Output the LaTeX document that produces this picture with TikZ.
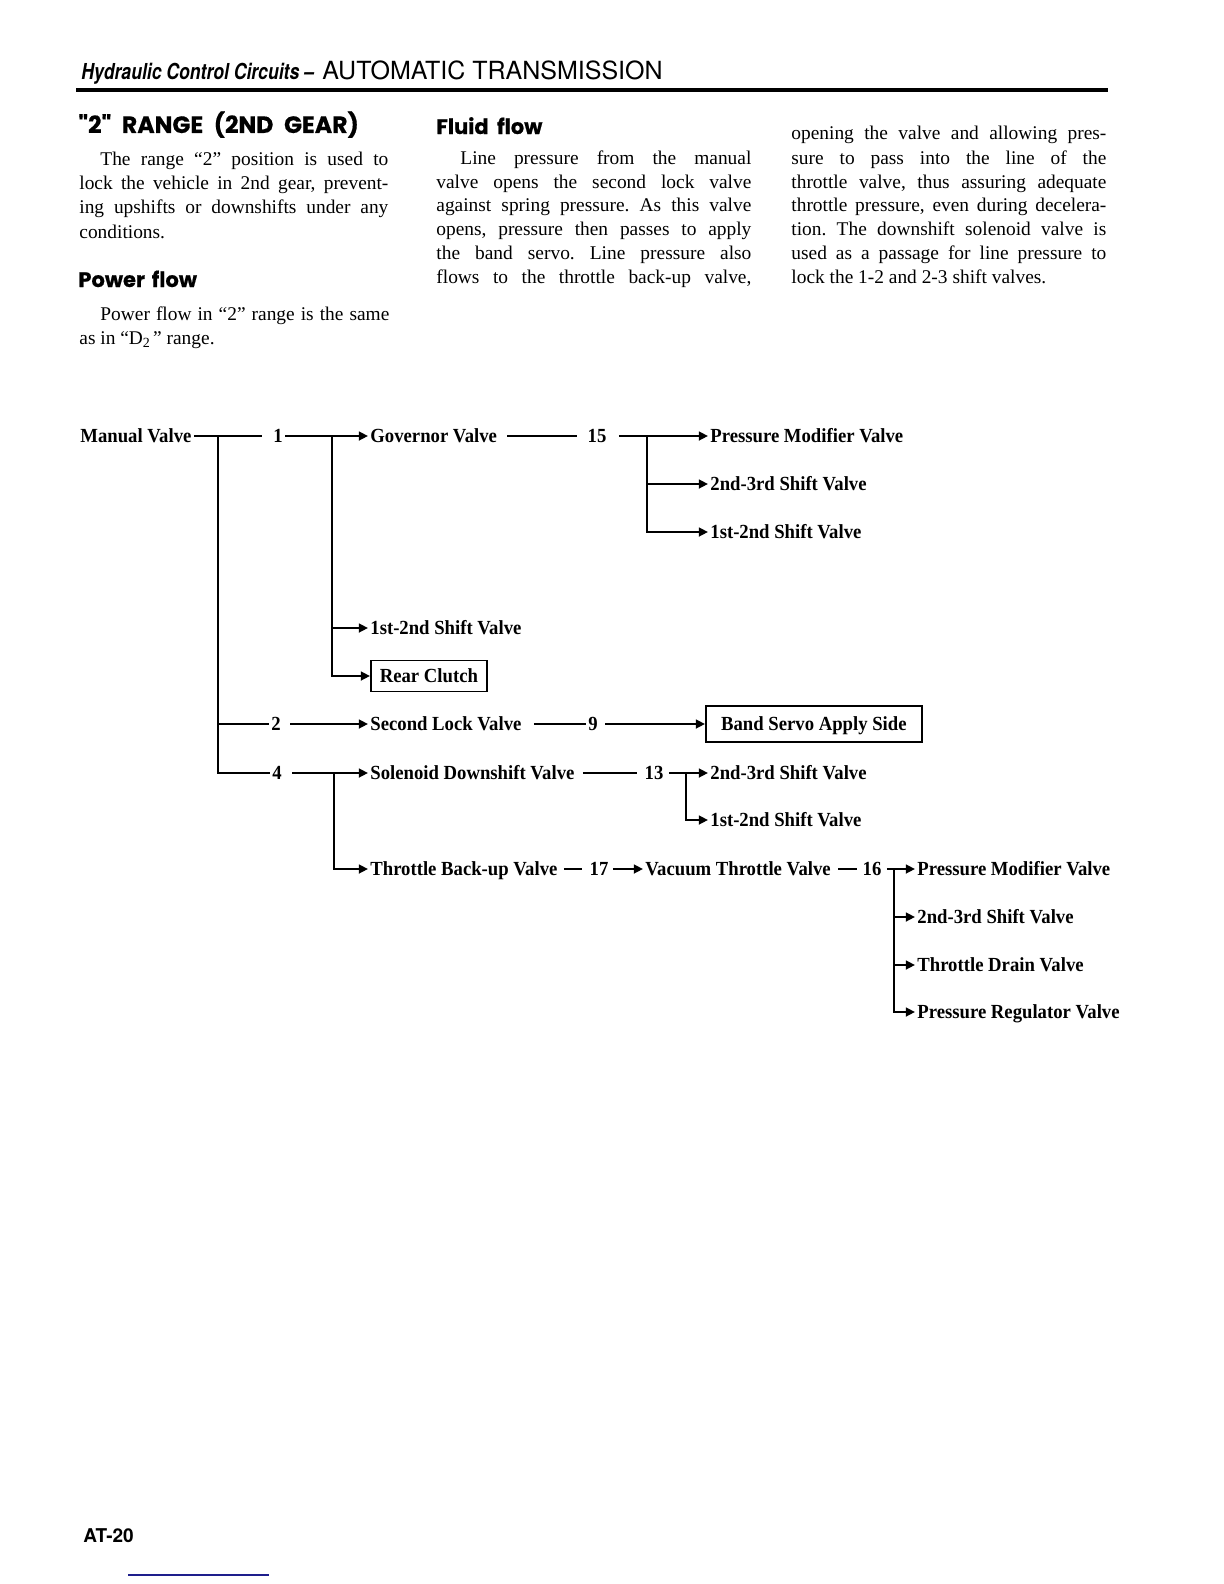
\documentclass[tikz,border=0pt]{standalone}
\usepackage{fontspec}
\setmainfont{Liberation Serif}
\newfontfamily\hdsans{TeX Gyre Heros}
\newfontfamily\hdsanscond{TeX Gyre Heros}[FakeStretch=0.8]
\newfontfamily\headfont{Poppins}[BoldFeatures={FakeBold=0.5}]
\newfontfamily\diafont{Liberation Serif}[FakeStretch=0.935]
\usetikzlibrary{arrows.meta}
\definecolor{navyline}{RGB}{30,30,140}
\frenchspacing
\newcommand\jline[5]{\node[bodyline] (#1) at (#2,#3) {\makebox[#4][s]{#5}};}
\newcommand\pline[4]{\node[bodyline] (#1) at (#2,#3) {#4};}
\tikzset{
  bodyline/.style={anchor=base west, inner sep=0pt, font=\fontsize{9.7}{12}\selectfont},
  headA/.style={anchor=base west, inner sep=0pt, font=\headfont\bfseries\fontsize{11.8}{13}\selectfont},
  headB/.style={anchor=base west, inner sep=0pt, font=\headfont\bfseries\fontsize{10.5}{12}\selectfont},
  dtext/.style={anchor=west, inner xsep=1pt, inner ysep=0pt, text height=6.6pt, text depth=0pt,
    font=\diafont\bfseries\fontsize{10}{12}\selectfont},
  dnum/.style={anchor=center, inner xsep=1pt, inner ysep=0pt, text height=6.6pt, text depth=0pt,
    font=\diafont\bfseries\fontsize{10}{12}\selectfont},
  dbox/.style={dtext, draw, line width=0.9pt, inner xsep=0pt, align=center},
  flow/.style={line width=1.1pt},
  arr/.style={flow, -{Triangle[length=4.6pt,width=4.4pt]}},
}
\begin{document}
\begin{tikzpicture}[x=0.5pt,y=-0.5pt]
\useasboundingbox[fill=white] (0,0) rectangle (1224,1584);

% ---------- page header ----------
\node[anchor=base west, inner sep=0pt, font=\hdsanscond\bfseries\itshape\fontsize{11}{13}\selectfont] (hdrA) at (81,80) {Hydraulic Control Circuits –};
\node[anchor=base west, inner sep=0pt, font=\hdsans\fontsize{12.5}{14}\selectfont] (hdrB) at (322,80) {AUTOMATIC TRANSMISSION};
\draw[line width=1.6pt] (76,90) -- (1108,90);

% ---------- column 1 ----------
\node[headA] (h1) at (78,133) {\spaceskip=0.45em "2" RANGE (2ND GEAR)};
\jline{c1a}{100}{165}{144pt}{The range “2” position is used to}
\jline{c1b}{79}{189.5}{154.5pt}{lock the vehicle in 2nd gear, prevent-}
\jline{c1c}{79}{213.5}{154.5pt}{ing upshifts or downshifts under any}
\pline{c1d}{79}{238}{conditions.}
\node[headB] (h2) at (78,287) {\spaceskip=0.32em Power flow};
\jline{c1e}{100}{320}{144.5pt}{Power flow in “2” range is the same}
\pline{c1f}{79}{344}{as in “D\raisebox{-0.35ex}{\fontsize{7}{8}\selectfont 2}\,” range.}

% ---------- column 2 ----------
\node[headB] (h3) at (436,134) {\spaceskip=0.4em Fluid flow};
\jline{c2a}{460}{164}{145.5pt}{Line pressure from the manual}
\jline{c2b}{436}{188}{157.5pt}{valve opens the second lock valve}
\jline{c2c}{436}{211.5}{157.5pt}{against spring pressure. As this valve}
\jline{c2d}{436}{235.5}{157.5pt}{opens, pressure then passes to apply}
\jline{c2e}{436}{259.5}{157.5pt}{the band servo. Line pressure also}
\jline{c2f}{436}{283.5}{157.5pt}{flows to the throttle back-up valve,}

% ---------- column 3 ----------
\jline{c3a}{791}{140}{157.5pt}{opening the valve and allowing pres-}
\jline{c3b}{791}{164}{157.5pt}{sure to pass into the line of the}
\jline{c3c}{791}{188}{157.5pt}{throttle valve, thus assuring adequate}
\jline{c3d}{791}{211.5}{157.5pt}{throttle pressure, even during decelera-}
\jline{c3e}{791}{235.5}{157.5pt}{tion. The downshift solenoid valve is}
\jline{c3f}{791}{259.5}{157.5pt}{used as a passage for line pressure to}
\pline{c3g}{791}{283.5}{lock the 1-2 and 2-3 shift valves.}

% ---------- diagram nodes ----------
\node[dtext] (mv)    at (78,436)  {Manual Valve};
\node[dnum]  (n1)    at (278,436) {1};
\node[dtext] (gov)   at (368,436) {Governor Valve};
\node[dnum]  (n15)   at (597,436) {15};
\node[dtext] (pmvA)  at (708,436) {Pressure Modifier Valve};
\node[dtext] (svA)   at (708,484) {2nd-3rd Shift Valve};
\node[dtext] (svB)   at (708,532) {1st-2nd Shift Valve};
\node[dtext] (svC)   at (368,628) {1st-2nd Shift Valve};
\node[dbox, minimum width=58pt, minimum height=15.5pt] (rc) at (370,676) {Rear Clutch};
\node[dnum]  (n2)    at (276,724) {2};
\node[dtext] (slv)   at (368,724) {Second Lock Valve};
\node[dnum]  (n9)    at (593,724) {9};
\node[dbox, minimum width=108pt, minimum height=18pt] (bs) at (705,724) {Band Servo Apply Side};
\node[dnum]  (n4)    at (277,773) {4};
\node[dtext] (sdv)   at (368,773) {Solenoid Downshift Valve};
\node[dnum]  (n13)   at (654,773) {13};
\node[dtext] (svD)   at (708,773) {2nd-3rd Shift Valve};
\node[dtext] (svE)   at (708,820) {1st-2nd Shift Valve};
\node[dtext] (tbv)   at (368,869) {Throttle Back-up Valve};
\node[dnum]  (n17)   at (599,869) {17};
\node[dtext] (vtv)   at (643,869) {Vacuum Throttle Valve};
\node[dnum]  (n16)   at (872,869) {16};
\node[dtext] (pmvB)  at (915,869) {Pressure Modifier Valve};
\node[dtext] (svF)   at (915,917) {2nd-3rd Shift Valve};
\node[dtext] (tdv)   at (915,965) {Throttle Drain Valve};
\node[dtext] (prv)   at (915,1012) {Pressure Regulator Valve};

% junction points
\coordinate (jA) at (218,436);
\coordinate (jB) at (332,436);
\coordinate (jC) at (647,436);
\coordinate (jD) at (334,773);
\coordinate (jE) at (686,773);
\coordinate (jF) at (894,869);

% ---------- connectors ----------
\draw[flow, shorten >=4.5pt] (mv.east) -- (n1.west);
\draw[arr] (n1.east) -- (gov.west);
\draw[flow, shorten <=4pt, shorten >=4pt] (gov.east) -- (n15.west);
\draw[arr, shorten <=5pt] (n15.east) -- (pmvA.west);
\draw[arr] (jC) |- (svA.west);
\draw[arr] (jC) |- (svB.west);

\draw[arr] (jB) |- (svC.west);
\draw[arr] (jB) |- (rc.west);

\draw[flow] (jA) |- (n2.west);
\draw[flow] (jA) |- (n4.west);

\draw[arr, shorten <=3.5pt] (n2.east) -- (slv.west);
\draw[flow, shorten <=5pt] (slv.east) -- (n9.west);
\draw[arr, shorten <=2.5pt] (n9.east) -- (bs.west);

\draw[arr, shorten <=4pt] (n4.east) -- (sdv.west);
\draw[arr] (jD) |- (tbv.west);
\draw[flow, shorten <=3pt, shorten >=2.5pt] (sdv.east) -- (n13.west);
\draw[arr, shorten <=1.5pt] (n13.east) -- (svD.west);
\draw[arr] (jE) |- (svE.west);

\draw[flow, shorten <=2pt, shorten >=2.5pt] (tbv.east) -- (n17.west);
\draw[arr, shorten <=1pt] (n17.east) -- (vtv.west);
\draw[flow, shorten <=2.5pt, shorten >=1.5pt] (vtv.east) -- (n16.west);
\draw[arr, shorten <=1.5pt] (n16.east) -- (pmvB.west);
\draw[arr] (jF) |- (svF.west);
\draw[arr] (jF) |- (tdv.west);
\draw[arr] (jF) |- (prv.west);

% ---------- footer ----------
\node[anchor=base west, inner sep=0pt, font=\hdsans\bfseries\fontsize{9.5}{11}\selectfont] (pg) at (83,1542) {AT-20};
\draw[navyline, line width=0.8pt] (128,1575) -- (269,1575);
\end{tikzpicture}
\end{document}
